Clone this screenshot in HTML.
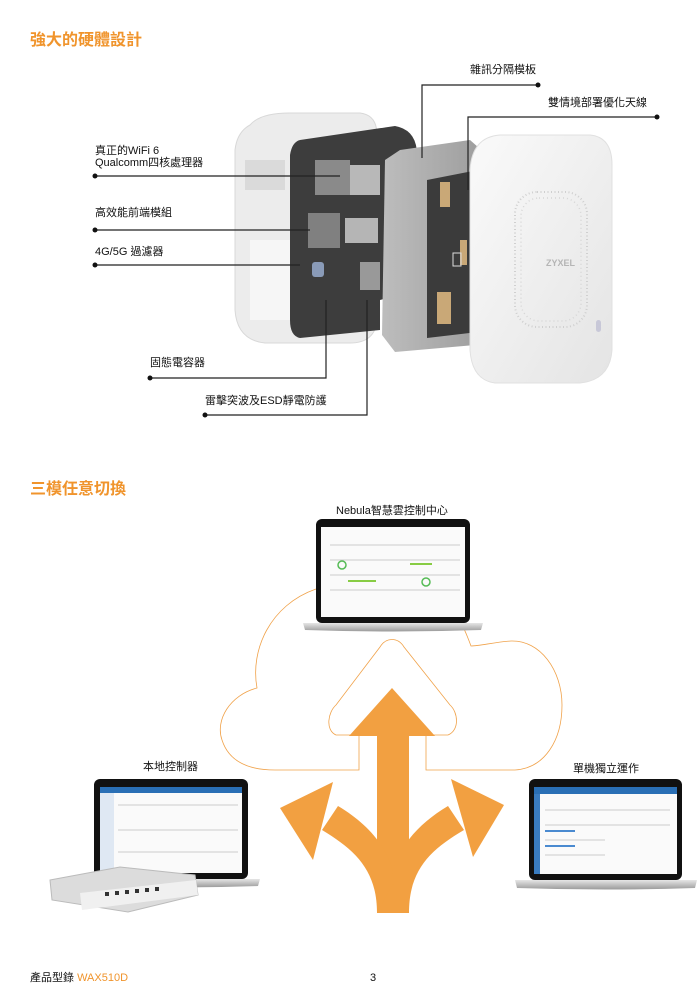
<!DOCTYPE html>
<html><head><meta charset="utf-8"><style>
html,body{margin:0;padding:0;background:#fff;}
body{width:697px;height:1000px;position:relative;overflow:hidden;font-family:"Liberation Sans","Noto Sans CJK TC",sans-serif;}
.t{position:absolute;white-space:nowrap;color:#111;font-size:11px;line-height:12px;}
.h{position:absolute;color:#f0942c;font-weight:bold;font-size:16px;font-family:"Liberation Sans","Noto Sans CJK TC",sans-serif;}
svg{position:absolute;left:0;top:0;}
</style></head><body>
<svg width="697" height="1000" viewBox="0 0 697 1000">
<defs>
<linearGradient id="cov" x1="0" y1="0" x2="1" y2="1"><stop offset="0" stop-color="#fafafa"/><stop offset="1" stop-color="#e4e4e4"/></linearGradient>
<linearGradient id="mt" x1="0" y1="0" x2="1" y2="0"><stop offset="0" stop-color="#bdbdbd"/><stop offset="1" stop-color="#9c9c9c"/></linearGradient>
<linearGradient id="sil" x1="0" y1="0" x2="0" y2="1"><stop offset="0" stop-color="#e6e6e6"/><stop offset="1" stop-color="#9a9a9a"/></linearGradient>
</defs>
<!-- back housing -->
<path d="M250 125 Q260 113 290 113 L360 113 Q377 115 377 135 L377 320 Q375 343 350 343 L265 343 Q237 340 235 310 L235 150 Q237 132 250 125Z" fill="#ececec" stroke="#d8d8d8"/>
<rect x="245" y="160" width="40" height="30" fill="#dadada"/>
<rect x="250" y="240" width="40" height="80" fill="#f6f6f6"/>
<!-- PCB -->
<path d="M300 140 L395 126 Q417 130 417 155 L417 290 L380 300 L380 330 L300 338 Q290 336 290 320 L290 155 Q292 142 300 140Z" fill="#3d3d3d"/>
<rect x="315" y="160" width="35" height="35" fill="#8a8a8a"/><rect x="350" y="165" width="30" height="30" fill="#b8b8b8"/>
<rect x="308" y="213" width="32" height="35" fill="#808080"/><rect x="345" y="218" width="33" height="25" fill="#b5b5b5"/>
<rect x="312" y="262" width="12" height="15" fill="#8a9bb8" rx="3"/>
<rect x="360" y="262" width="20" height="28" fill="#999"/>
<!-- metal plate -->
<path d="M385 160 L400 150 L470 140 L487 155 L487 320 L475 345 L395 352 L382 335 Z" fill="url(#mt)"/>
<!-- antenna board -->
<path d="M427 180 L478 170 L478 332 L427 338 Z" fill="#3b3b3b"/>
<rect x="440" y="182" width="10" height="25" fill="#c9a877"/><rect x="460" y="240" width="7" height="25" fill="#c9a877"/>
<rect x="437" y="292" width="14" height="32" fill="#c9a877"/><rect x="453" y="253" width="8" height="13" fill="none" stroke="#ddd"/>
<!-- front cover -->
<path d="M500 135 L590 135 Q612 137 612 165 L612 350 Q610 380 580 383 L495 383 Q472 380 470 350 L470 170 Q472 137 500 135Z" fill="url(#cov)" stroke="#e0e0e0"/>
<rect x="515" y="192" width="72" height="135" rx="22" fill="none" stroke="#cfcfcf" stroke-width="2" stroke-dasharray="1 2.5"/>
<rect x="521" y="198" width="60" height="123" rx="18" fill="none" stroke="#d6d6d6" stroke-width="1.5" stroke-dasharray="1 3"/>
<text x="546" y="266" font-family="Liberation Sans" font-size="9" font-weight="bold" fill="#b5b5b5">ZYXEL</text>
<rect x="596" y="320" width="5" height="12" rx="2.5" fill="#c8c8d8"/>
<!-- leader lines -->
<g stroke="#222" stroke-width="1.2" fill="none">
<polyline points="538,85 422,85 422,158"/>
<polyline points="657,117 468,117 468,190"/>
<line x1="95" y1="176" x2="340" y2="176"/>
<line x1="95" y1="230" x2="310" y2="230"/>
<line x1="95" y1="265" x2="300" y2="265"/>
<polyline points="150,378 326,378 326,300"/>
<polyline points="205,415 367,415 367,300"/>
</g>
<g fill="#111"><circle cx="538" cy="85" r="2.5"/><circle cx="657" cy="117" r="2.5"/><circle cx="95" cy="176" r="2.5"/><circle cx="95" cy="230" r="2.5"/><circle cx="95" cy="265" r="2.5"/><circle cx="150" cy="378" r="2.5"/><circle cx="205" cy="415" r="2.5"/></g>

<!-- cloud outline -->
<path d="M316 589 C270 605 250 650 257 688 C230 695 215 720 222 740 C230 765 255 770 275 770 L359 770 L359 735 L336 735 C325 730 328 712 336 705 L380 647 C386 637 398 637 404 647 L450 705 C458 712 460 730 448 735 L426 735 L426 770 L515 770 C545 768 562 740 562 705 C562 670 540 640 511 641 C495 642 480 646 471 646 C468 638 465 630 462 625" fill="none" stroke="#f0a24a" stroke-width="0.8"/>
<!-- arrows -->
<g fill="#f2a041">
<rect x="377" y="728" width="32" height="185"/>
<polygon points="392,688 435,736 349,736"/>
<path d="M377 913 C377 870 355 850 322 830 L338 806 C370 825 390 850 395 880 Z"/>
<polygon points="280,808 333,782 313,860"/>
<path d="M409 913 C409 870 430 850 464 830 L448 806 C416 825 396 850 391 880 Z"/>
<polygon points="504,805 451,779 473,857"/>
</g>

<!-- top laptop -->
<rect x="316" y="519" width="154" height="104" rx="6" fill="#111"/>
<rect x="321" y="527" width="144" height="90" fill="#fafafa"/>
<g stroke="#ccc" stroke-width="1"><line x1="330" y1="545" x2="460" y2="545"/><line x1="330" y1="560" x2="460" y2="560"/><line x1="330" y1="575" x2="460" y2="575"/><line x1="330" y1="590" x2="460" y2="590"/></g>
<circle cx="342" cy="565" r="4" fill="none" stroke="#5b5" stroke-width="1.5"/><circle cx="426" cy="582" r="4" fill="none" stroke="#5b5" stroke-width="1.5"/>
<rect x="410" y="563" width="22" height="2" fill="#8c4"/><rect x="348" y="580" width="28" height="2" fill="#8c4"/>
<path d="M303 623 L483 623 L481 630 Q393 633 305 630Z" fill="url(#sil)"/>

<!-- left laptop -->
<rect x="94" y="779" width="154" height="100" rx="6" fill="#111"/>
<rect x="100" y="787" width="142" height="86" fill="#fafafa"/>
<rect x="100" y="787" width="142" height="6" fill="#2a6fb5"/><rect x="100" y="793" width="14" height="80" fill="#dfe8f3"/>
<g stroke="#ccc"><line x1="118" y1="805" x2="238" y2="805"/><line x1="118" y1="830" x2="238" y2="830"/><line x1="118" y1="852" x2="238" y2="852"/></g>
<path d="M90 879 L260 879 L258 886 Q175 889 92 886Z" fill="url(#sil)"/>
<!-- router -->
<path d="M50 880 L120 867 L195 875 L198 895 L128 912 L52 900Z" fill="#dcdcdc" stroke="#bbb"/>
<path d="M80 893 L196 880 L198 895 L82 910Z" fill="#f0f0f0"/>
<g fill="#333"><rect x="105" y="892" width="4" height="4"/><rect x="115" y="891" width="4" height="4"/><rect x="125" y="890" width="4" height="4"/><rect x="135" y="889" width="4" height="4"/><rect x="145" y="888" width="4" height="4"/><rect x="155" y="887" width="4" height="4"/></g>

<!-- right laptop -->
<rect x="529" y="779" width="153" height="101" rx="6" fill="#111"/>
<rect x="534" y="787" width="143" height="87" fill="#fafafa"/>
<rect x="534" y="787" width="143" height="7" fill="#2a6fb5"/><rect x="534" y="794" width="6" height="80" fill="#3a7cc0"/>
<g stroke="#ccc"><line x1="545" y1="810" x2="670" y2="810"/><line x1="545" y1="825" x2="670" y2="825"/><line x1="545" y1="840" x2="605" y2="840"/><line x1="545" y1="855" x2="605" y2="855"/></g>
<rect x="545" y="830" width="30" height="2" fill="#4a8ad0"/><rect x="545" y="845" width="30" height="2" fill="#4a8ad0"/>
<path d="M515 880 L697 880 L695 888 Q605 891 517 888Z" fill="url(#sil)"/>
</svg>

<div class="h" style="left:30px;top:26px;">強大的硬體設計</div>
<div class="t" style="left:470px;top:64px;">雜訊分隔模板</div>
<div class="t" style="left:548px;top:97px;">雙情境部署優化天線</div>
<div class="t" style="left:95px;top:145px;">真正的WiFi 6</div>
<div class="t" style="left:95px;top:157px;">Qualcomm四核處理器</div>
<div class="t" style="left:95px;top:207px;">高效能前端模組</div>
<div class="t" style="left:95px;top:246px;">4G/5G 過濾器</div>
<div class="t" style="left:150px;top:357px;">固態電容器</div>
<div class="t" style="left:205px;top:395px;">雷擊突波及ESD靜電防護</div>

<div class="h" style="left:30px;top:475px;">三模任意切換</div>
<div class="t" style="left:336px;top:505px;">Nebula智慧雲控制中心</div>
<div class="t" style="left:143px;top:761px;">本地控制器</div>
<div class="t" style="left:573px;top:763px;">單機獨立運作</div>

<div class="t" style="left:30px;top:972px;">產品型錄 <span style="color:#f0942c">WAX510D</span></div>
<div class="t" style="left:370px;top:972px;">3</div>
</body></html>
